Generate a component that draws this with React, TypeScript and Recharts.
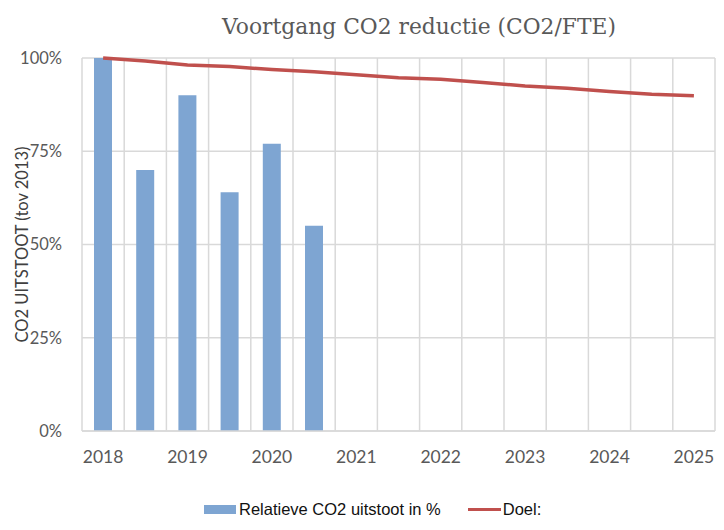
import { ComposedChart, Bar, Line, XAxis, YAxis, CartesianGrid, Legend } from 'recharts'

// half-year periods 2018 .. 2025
const periods = ['2018', '2018.5', '2019', '2019.5', '2020', '2020.5', '2021', '2021.5', '2022', '2022.5', '2023', '2023.5', '2024', '2024.5', '2025']
const relatieveUitstoot = [100, 70, 90, 64, 77, 55, null, null, null, null, null, null, null, null, null]
const doel = [100, 99.2, 98.1, 97.7, 96.9, 96.3, 95.5, 94.7, 94.3, 93.4, 92.5, 91.9, 91.0, 90.3, 89.9]
const yTicks = [0, 25, 50, 75, 100]

const data = periods.map((p, i) => ({ period: p, uitstoot: relatieveUitstoot[i], doel: doel[i] }))

const gridColor = '#d9d9d9'
const textColor = '#595959'
const sans = 'Lato, "Liberation Sans", sans-serif'
const legendFont = '"Liberation Sans", Arial, sans-serif'

const YLabel = ({ viewBox }: any) => {
  const cx = 22
  const cy = viewBox.y + viewBox.height / 2
  return (
    <text x={cx} y={cy} transform={`rotate(-90 ${cx} ${cy})`} textAnchor="middle" dominantBaseline="central"
      fill="#404040" fontSize={16.5} fontFamily={sans}>
      CO2 UITSTOOT (tov 2013)
    </text>
  )
}

const App = () => {
  return (
    <div style={{ position: 'relative', margin: -8, width: 724, height: 530, overflow: 'hidden', background: '#fff' }}>
      <div style={{ position: 'absolute', left: 6, top: 7, width: 740, height: 560, border: `1px solid ${gridColor}` }} />
      <div style={{ position: 'absolute', left: 119, width: 600, top: 13.5, textAlign: 'center', fontFamily: '"DejaVu Serif", serif', fontSize: 21.8, color: textColor, whiteSpace: 'nowrap' }}>
        Voortgang CO2 reductie (CO2/FTE)
      </div>
      <div style={{ position: 'absolute', left: 0, top: 0 }}>
        <ComposedChart width={724} height={530} data={data} margin={{ top: 58, right: 9, bottom: 69, left: 0 }} barCategoryGap={0}>
          <CartesianGrid stroke={gridColor} strokeWidth={1.5}
            verticalCoordinatesGenerator={({ offset }: any) =>
              Array.from({ length: periods.length + 1 }, (_, i) => offset.left + (i * offset.width) / periods.length)} />
          <XAxis dataKey="period" interval={1} tickLine={false} tickSize={0} tickMargin={20} height={30}
            axisLine={{ stroke: gridColor, strokeWidth: 1.5 }}
            tick={{ fill: textColor, fontSize: 17.5, fontFamily: sans }} />
          <YAxis width={82} domain={[0, 100]} ticks={yTicks} tickFormatter={(v: number) => `${v}%`}
            axisLine={false} tickLine={false} tickSize={0} tickMargin={20}
            tick={{ fill: textColor, fontSize: 16.5, fontFamily: sans }}
            label={<YLabel />} />
          <Legend layout="horizontal" verticalAlign="middle" align="center"
            wrapperStyle={{ top: 500, left: 0, width: 724 }}
            content={() => (
              <div style={{ display: 'flex', alignItems: 'center', paddingLeft: 204, color: '#111', fontFamily: legendFont, fontSize: 16.5, lineHeight: '19px' }}>
                <span style={{ display: 'inline-block', width: 32, height: 9, background: '#7ea5d2', marginRight: 3 }} />
                <span>Relatieve CO2 uitstoot in %</span>
                <span style={{ display: 'inline-block', width: 33, height: 3, background: '#c0504d', marginLeft: 27, marginRight: 2 }} />
                <span>Doel:</span>
              </div>
            )} />
          <Bar dataKey="uitstoot" name="Relatieve CO2 uitstoot in %" fill="#7ea5d2" barSize={18} isAnimationActive={false} />
          <Line dataKey="doel" name="Doel:" type="linear" stroke="#c0504d" strokeWidth={3.5} dot={false} isAnimationActive={false} />
        </ComposedChart>
      </div>
    </div>
  )
}

export default App
